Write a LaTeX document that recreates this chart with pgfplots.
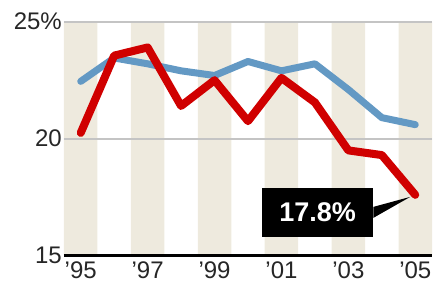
\documentclass[border=0pt]{standalone}
\usepackage{pgfplots}
\pgfplotsset{compat=1.18}
\usepackage{fontspec}
\setmainfont{Liberation Sans}
\definecolor{beige}{HTML}{EEEADE}
\definecolor{redline}{HTML}{D00000}
\definecolor{blueline}{HTML}{6399C4}
\definecolor{gridgray}{HTML}{C4C4C4}
\begin{document}
\begin{tikzpicture}
\begin{axis}[
  scale only axis,
  width=368pt, height=234pt,
  xmin=1994.5, xmax=2005.5,
  ymin=15, ymax=25,
  axis on top,
  axis x line*=bottom,
  axis y line*=left,
  x axis line style={line width=2.5pt, black, -},
  y axis line style={draw=none},
  xtick={1995,1997,1999,2001,2003,2005},
  xticklabels={’95,’97,’99,’01,’03,’05},
  ytick={15,20,25},
  yticklabels={15,20,25\%},
  major tick length=0pt,
  tick style={draw=none},
  /pgf/number format/assume math mode=true,
  ticklabel style={font=\fontsize{24}{24}\selectfont, text=black!85},
  xticklabel style={inner sep=0pt, yshift=-6pt},
  yticklabel style={inner sep=0pt, xshift=-2pt},
  clip=true,
]
% stripes
\addplot[ybar, bar width=1, bar shift=0pt, fill=beige, draw=none, forget plot]
  coordinates {(1995,25) (1997,25) (1999,25) (2001,25) (2003,25) (2005,25)};
% grid lines
\addplot[gridgray, line width=1.8pt, forget plot] coordinates {(1994.5,25) (2005.5,25)};
\addplot[gridgray, line width=1.8pt, forget plot] coordinates {(1994.5,20) (2005.5,20)};
% blue series
\addplot[blueline, line width=7pt, line join=round, line cap=round]
  coordinates {(1995,22.45) (1996,23.45) (1997,23.2) (1998,22.9) (1999,22.7) (2000,23.3)
               (2001,22.9) (2002,23.2) (2003,22.1) (2004,20.9) (2005,20.6)};
% red series
\addplot[redline, line width=8pt, line join=round, line cap=round]
  coordinates {(1995,20.25) (1996,23.55) (1997,23.9) (1998,21.4) (1999,22.5) (2000,20.75)
               (2001,22.6) (2002,21.55) (2003,19.5) (2004,19.3) (2005,17.6)};
\coordinate (tip) at (axis cs:2005,17.6);
\coordinate (sw) at (rel axis cs:0,0);
\coordinate (ne) at (rel axis cs:1,1);
\node[fill=black, text=white, minimum width=111pt, minimum height=49pt, inner sep=0pt,
      font=\fontsize{27}{27}\selectfont\bfseries] (lbl) at (axis cs:2002.08,16.85) {17.8\%};
\fill[black] ([yshift=5.5pt]lbl.east) -- ([xshift=-5pt,yshift=-2pt]tip) -- ([yshift=-5.5pt]lbl.east) -- cycle;
\end{axis}
\path[use as bounding box] ([xshift=-64pt,yshift=-30.5pt]sw) rectangle ([xshift=6pt,yshift=21.7pt]ne);
\end{tikzpicture}
\end{document}
